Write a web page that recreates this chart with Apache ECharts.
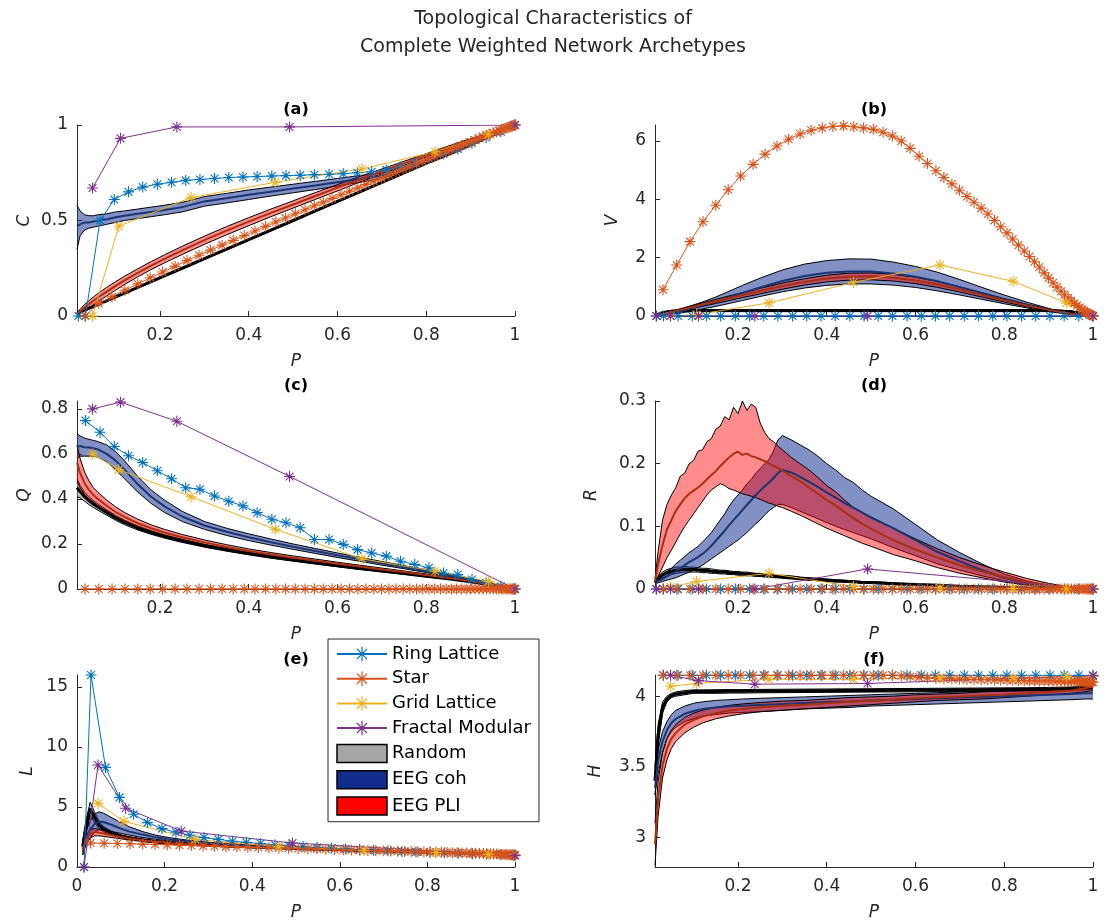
<!DOCTYPE html>
<html>
<head>
<meta charset="utf-8">
<script src="https://cdn.jsdelivr.net/npm/echarts@6/dist/echarts.min.js"></script>
<style>html,body{margin:0;padding:0;background:#fff}#c{width:1105px;height:923px}</style>
</head>
<body>
<div id="c"></div>
<script>
// ---------- x positions ----------
const P_BAND = [0.013,0.02,0.03,0.04,0.05,0.06,0.08,0.1,0.12,0.15,0.18,0.21,0.25,0.3,0.35,0.4,0.45,0.5,0.55,0.6,0.65,0.7,0.75,0.8,0.85,0.9,0.95,0.98,1.0];
const P_BAND_D = [0.013,0.02,0.03,0.04,0.05,0.06,0.07,0.08,0.09,0.1,0.11,0.12,0.13,0.14,0.15,0.16,0.17,0.18,0.19,0.2,0.21,0.22,0.23,0.24,0.25,0.26,0.27,0.28,0.29,0.3,0.32,0.34,0.36,0.38,0.4,0.42,0.44,0.46,0.48,0.5,0.55,0.6,0.65,0.7,0.75,0.8,0.85,0.9,0.95,1.0];
const P_RING = [0.016,0.032,0.065,0.097,0.129,0.161,0.194,0.226,0.258,0.290,0.323,0.355,0.387,0.419,0.452,0.484,0.516,0.548,0.581,0.613,0.645,0.677,0.710,0.742,0.774,0.806,0.839,0.871,0.903,0.935,0.968,1.0];
const P_STAR = [0.031,0.062,0.092,0.121,0.150,0.178,0.206,0.234,0.261,0.288,0.314,0.340,0.365,0.390,0.414,0.438,0.461,0.483,0.505,0.527,0.548,0.568,0.588,0.608,0.627,0.646,0.664,0.682,0.699,0.716,0.732,0.748,0.763,0.778,0.792,0.806,0.819,0.832,0.845,0.857,0.868,0.879,0.890,0.900,0.910,0.919,0.928,0.936,0.944,0.951,0.958,0.964,0.970,0.975,0.980,0.984,0.988,0.991,0.994,0.996,0.998,1.0];
const P_GRID = [0.048,0.107,0.27,0.46,0.655,0.82,0.94,1.0];
const P_FRACT = [0.016,0.048,0.111,0.238,0.492,1.0];

// ---------- tick labels ----------
const X_TICKS = [0.2,0.4,0.6,0.8,1];
const X_TICKS_E = [0,0.2,0.4,0.6,0.8,1];
const C_TICKS = [0,0.5,1];
const V_TICKS = [0,2,4,6];
const Q_TICKS = [0,0.2,0.4,0.6,0.8];
const R_TICKS = [0,0.1,0.2,0.3];
const L_TICKS = [0,5,10,15];
const H_TICKS = [3,3.5,4];

// ---------- (a) C ----------
const C_RING = [0,0,0.5,0.61,0.65,0.675,0.69,0.70,0.71,0.715,0.72,0.725,0.728,0.73,0.733,0.735,0.737,0.74,0.742,0.745,0.75,0.755,0.765,0.78,0.80,0.825,0.85,0.875,0.905,0.935,0.965,1.0];
const C_STAR = [0.0,0.065,0.10,0.135,0.168,0.2,0.23,0.26,0.29,0.318,0.345,0.371,0.396,0.421,0.445,0.469,0.492,0.513,0.535,0.556,0.577,0.596,0.616,0.635,0.653,0.671,0.689,0.706,0.722,0.738,0.754,0.769,0.783,0.797,0.81,0.824,0.836,0.848,0.86,0.871,0.882,0.892,0.902,0.912,0.921,0.93,0.938,0.945,0.952,0.959,0.965,0.97,0.975,0.98,0.984,0.987,0.99,0.993,0.995,0.997,0.999,1.0];
const C_GRID = [0,0.47,0.62,0.70,0.77,0.86,0.95,1.0];
const C_FRACT = [null,0.67,0.93,0.99,0.99,1.0];
const C_RND_LO = [0.009,0.016,0.026,0.036,0.046,0.056,0.076,0.096,0.116,0.146,0.176,0.206,0.246,0.296,0.346,0.396,0.446,0.496,0.546,0.596,0.646,0.696,0.746,0.796,0.846,0.896,0.946,0.976,0.996];
const C_RND_HI = [0.017,0.024,0.034,0.044,0.054,0.064,0.084,0.104,0.124,0.154,0.184,0.214,0.254,0.304,0.354,0.404,0.454,0.504,0.554,0.604,0.654,0.704,0.754,0.804,0.854,0.904,0.954,0.984,1.0];
const C_COH_LO = [0.35,0.42,0.45,0.46,0.465,0.47,0.48,0.49,0.50,0.51,0.52,0.53,0.545,0.575,0.592,0.61,0.628,0.645,0.662,0.68,0.70,0.72,0.755,0.795,0.84,0.89,0.942,0.976,0.998];
const C_COH_HI = [0.58,0.55,0.53,0.525,0.525,0.53,0.535,0.545,0.55,0.56,0.57,0.58,0.595,0.625,0.642,0.66,0.675,0.69,0.705,0.72,0.735,0.75,0.78,0.815,0.86,0.905,0.952,0.982,1.0];
const C_COH_MEAN = [0.47,0.48,0.49,0.49,0.495,0.50,0.507,0.517,0.525,0.535,0.545,0.555,0.57,0.6,0.617,0.635,0.651,0.667,0.683,0.7,0.717,0.735,0.767,0.805,0.85,0.897,0.947,0.979,0.999];
const C_PLI_LO = [0.0,0.012,0.03,0.045,0.06,0.075,0.105,0.135,0.165,0.205,0.243,0.278,0.322,0.375,0.425,0.473,0.52,0.565,0.61,0.655,0.70,0.745,0.788,0.832,0.875,0.916,0.958,0.982,0.998];
const C_PLI_HI = [0.02,0.035,0.06,0.08,0.10,0.118,0.15,0.18,0.208,0.247,0.285,0.32,0.365,0.418,0.468,0.515,0.56,0.603,0.646,0.688,0.73,0.77,0.81,0.85,0.89,0.928,0.965,0.986,1.0];
const C_PLI_MEAN = [0.01,0.024,0.045,0.062,0.08,0.097,0.128,0.158,0.187,0.226,0.264,0.299,0.344,0.397,0.447,0.494,0.54,0.584,0.628,0.672,0.715,0.758,0.799,0.841,0.883,0.922,0.962,0.984,0.999];

// ---------- (b) V ----------
const V_RING = [0,0,0,0,0,0,0,0,0,0,0,0,0,0,0,0,0,0,0,0,0,0,0,0,0,0,0,0,0,0,0,0];
const V_STAR = [0.9,1.75,2.55,3.23,3.8,4.33,4.8,5.2,5.55,5.83,6.06,6.24,6.37,6.45,6.5,6.52,6.49,6.45,6.4,6.3,6.17,6.0,5.75,5.48,5.23,4.98,4.75,4.53,4.31,4.1,3.9,3.7,3.5,3.28,3.06,2.85,2.64,2.43,2.23,2.04,1.86,1.68,1.48,1.3,1.14,0.99,0.85,0.73,0.62,0.52,0.43,0.36,0.29,0.23,0.18,0.14,0.1,0.07,0.05,0.03,0.02,0.0];
const V_GRID = [0,0.05,0.45,1.15,1.75,1.19,0.45,0];
const V_FRACT = [0,0,0,0,0,0];
const V_RND_LO = [0,0.04,0.08,0.11,0.13,0.14,0.15,0.15,0.15,0.15,0.15,0.15,0.15,0.15,0.15,0.15,0.15,0.15,0.15,0.15,0.15,0.15,0.15,0.15,0.15,0.15,0.12,0.05,0];
const V_RND_HI = [0.02,0.08,0.14,0.17,0.19,0.2,0.21,0.22,0.22,0.22,0.22,0.22,0.22,0.22,0.22,0.22,0.22,0.22,0.22,0.22,0.22,0.22,0.22,0.22,0.22,0.22,0.18,0.09,0.01];
const V_COH_LO = [0,0.01,0.02,0.04,0.06,0.08,0.13,0.18,0.24,0.33,0.43,0.53,0.67,0.83,0.96,1.05,1.1,1.1,1.06,0.98,0.86,0.72,0.57,0.42,0.28,0.15,0.05,0.01,0];
const V_COH_HI = [0.02,0.04,0.07,0.1,0.14,0.18,0.28,0.38,0.48,0.65,0.85,1.05,1.3,1.58,1.78,1.9,1.96,1.95,1.85,1.7,1.5,1.25,0.98,0.72,0.48,0.26,0.09,0.03,0];
const V_COH_MEAN = [0.01,0.025,0.045,0.07,0.1,0.13,0.2,0.28,0.36,0.49,0.64,0.79,0.98,1.2,1.37,1.48,1.53,1.53,1.46,1.35,1.19,0.99,0.78,0.57,0.38,0.21,0.07,0.02,0];
const V_PLI_LO = [0,0.02,0.05,0.08,0.11,0.14,0.2,0.27,0.33,0.43,0.53,0.63,0.76,0.92,1.06,1.17,1.23,1.24,1.2,1.11,0.98,0.82,0.65,0.48,0.32,0.18,0.06,0.015,0];
const V_PLI_HI = [0.02,0.05,0.09,0.13,0.17,0.21,0.29,0.37,0.45,0.57,0.69,0.8,0.95,1.13,1.28,1.4,1.47,1.48,1.43,1.33,1.18,1.0,0.8,0.6,0.41,0.24,0.09,0.03,0];
const V_PLI_MEAN = [0.01,0.035,0.07,0.105,0.14,0.175,0.245,0.32,0.39,0.5,0.61,0.715,0.855,1.025,1.17,1.285,1.35,1.36,1.315,1.22,1.08,0.91,0.725,0.54,0.365,0.21,0.075,0.022,0];

// ---------- (c) Q ----------
const Q_RING = [null,0.748,0.696,0.633,0.592,0.562,0.525,0.49,0.45,0.443,0.413,0.39,0.369,0.339,0.31,0.294,0.272,0.22,0.22,0.198,0.175,0.16,0.146,0.123,0.109,0.094,0.071,0.064,0.042,0.027,0.012,0];
const Q_STAR = [0,0,0,0,0,0,0,0,0,0,0,0,0,0,0,0,0,0,0,0,0,0,0,0,0,0,0,0,0,0,0,0,0,0,0,0,0,0,0,0,0,0,0,0,0,0,0,0,0,0,0,0,0,0,0,0,0,0,0,0,0,0];
const Q_GRID = [0.6,0.53,0.41,0.265,0.134,0.079,0.034,0];
const Q_FRACT = [null,0.8,0.83,0.745,0.5,0];
const Q_RND_LO = [0.41,0.405,0.39,0.375,0.362,0.35,0.328,0.305,0.286,0.262,0.243,0.226,0.207,0.186,0.168,0.152,0.137,0.124,0.111,0.099,0.087,0.076,0.065,0.054,0.043,0.03,0.015,0.005,0];
const Q_RND_HI = [0.49,0.46,0.43,0.41,0.393,0.378,0.352,0.327,0.306,0.28,0.259,0.241,0.221,0.199,0.18,0.163,0.148,0.134,0.121,0.108,0.096,0.084,0.072,0.06,0.048,0.034,0.018,0.007,0];
const Q_COH_LO = [0.58,0.59,0.59,0.59,0.59,0.585,0.565,0.53,0.49,0.43,0.38,0.34,0.3,0.265,0.238,0.215,0.195,0.176,0.158,0.14,0.123,0.106,0.09,0.073,0.056,0.038,0.019,0.007,0];
const Q_COH_HI = [0.69,0.68,0.67,0.665,0.66,0.655,0.64,0.61,0.57,0.5,0.44,0.395,0.345,0.3,0.27,0.245,0.222,0.2,0.18,0.16,0.141,0.122,0.104,0.085,0.066,0.046,0.024,0.01,0];
const Q_COH_MEAN = [0.63,0.635,0.63,0.628,0.625,0.62,0.6,0.57,0.53,0.465,0.41,0.367,0.322,0.282,0.254,0.23,0.208,0.188,0.169,0.15,0.132,0.114,0.097,0.079,0.061,0.042,0.021,0.008,0];
const Q_PLI_LO = [0.48,0.45,0.42,0.40,0.385,0.37,0.345,0.32,0.30,0.275,0.255,0.238,0.218,0.196,0.177,0.16,0.145,0.131,0.118,0.105,0.093,0.081,0.069,0.057,0.045,0.031,0.016,0.006,0];
const Q_PLI_HI = [0.64,0.58,0.52,0.48,0.45,0.43,0.395,0.365,0.34,0.31,0.285,0.265,0.242,0.218,0.197,0.178,0.162,0.147,0.133,0.119,0.106,0.093,0.08,0.067,0.053,0.038,0.02,0.008,0];
const Q_PLI_MEAN = [0.56,0.515,0.47,0.44,0.417,0.4,0.37,0.342,0.32,0.292,0.27,0.251,0.23,0.207,0.187,0.169,0.153,0.139,0.125,0.112,0.1,0.087,0.075,0.062,0.049,0.035,0.018,0.007,0];

// ---------- (d) R ----------
const R_RING = [0,0,0,0,0,0,0,0,0,0,0,0,0,0,0,0,0,0,0,0,0,0,0,0,0,0,0,0,0,0,0,0];
const R_STAR = [0,0,0,0,0,0,0,0,0,0,0,0,0,0,0,0,0,0,0,0,0,0,0,0,0,0,0,0,0,0,0,0,0,0,0,0,0,0,0,0,0,0,0,0,0,0,0,0,0,0,0,0,0,0,0,0,0,0,0,0,0,0];
const R_GRID = [0.003,0.012,0.025,0.004,0.002,0.001,0,0];
const R_FRACT = [0,0,0,0,0.032,0];
const R_RND_LO = [0.008,0.013,0.018,0.021,0.023,0.025,0.026,0.027,0.027,0.027,0.027,0.026,0.026,0.025,0.025,0.024,0.024,0.023,0.023,0.022,0.022,0.021,0.021,0.02,0.02,0.019,0.019,0.018,0.018,0.017,0.016,0.015,0.014,0.013,0.012,0.011,0.011,0.01,0.009,0.009,0.007,0.006,0.005,0.004,0.003,0.002,0.001,0.001,0,0];
const R_RND_HI = [0.012,0.02,0.027,0.031,0.033,0.035,0.035,0.036,0.035,0.035,0.034,0.033,0.033,0.032,0.031,0.03,0.03,0.029,0.028,0.028,0.027,0.027,0.026,0.025,0.025,0.024,0.024,0.023,0.022,0.022,0.021,0.019,0.018,0.017,0.016,0.015,0.014,0.013,0.012,0.012,0.01,0.008,0.007,0.005,0.004,0.003,0.002,0.001,0.0005,0];
const R_COH_LO = [0.008,0.01,0.012,0.014,0.016,0.018,0.021,0.024,0.027,0.03,0.034,0.038,0.043,0.048,0.053,0.058,0.063,0.068,0.073,0.078,0.084,0.09,0.097,0.104,0.11,0.118,0.125,0.13,0.135,0.135,0.13,0.124,0.118,0.112,0.106,0.1,0.095,0.09,0.085,0.08,0.066,0.053,0.04,0.03,0.021,0.013,0.007,0.003,0.001,0];
const R_COH_HI = [0.012,0.018,0.022,0.028,0.033,0.04,0.046,0.052,0.058,0.063,0.068,0.075,0.082,0.09,0.1,0.11,0.12,0.132,0.142,0.15,0.158,0.168,0.175,0.185,0.192,0.2,0.207,0.22,0.238,0.245,0.238,0.23,0.222,0.212,0.2,0.19,0.178,0.17,0.158,0.148,0.128,0.103,0.078,0.058,0.04,0.024,0.013,0.006,0.002,0];
const R_COH_MEAN = [0.01,0.013,0.016,0.02,0.024,0.028,0.033,0.038,0.043,0.047,0.051,0.056,0.062,0.069,0.077,0.085,0.093,0.102,0.11,0.118,0.126,0.134,0.142,0.15,0.157,0.164,0.17,0.177,0.185,0.19,0.186,0.179,0.171,0.163,0.154,0.146,0.137,0.13,0.122,0.114,0.097,0.078,0.059,0.044,0.03,0.018,0.01,0.004,0.001,0];
const R_PLI_LO = [0.01,0.02,0.035,0.05,0.062,0.075,0.088,0.1,0.11,0.12,0.13,0.14,0.15,0.158,0.163,0.168,0.165,0.16,0.158,0.155,0.152,0.15,0.148,0.146,0.143,0.14,0.137,0.135,0.132,0.13,0.124,0.118,0.111,0.104,0.097,0.091,0.085,0.079,0.073,0.068,0.055,0.045,0.034,0.025,0.018,0.011,0.006,0.003,0.001,0];
const R_PLI_HI = [0.015,0.06,0.11,0.135,0.15,0.162,0.18,0.185,0.2,0.205,0.22,0.222,0.235,0.24,0.255,0.26,0.275,0.27,0.29,0.28,0.3,0.285,0.295,0.29,0.265,0.25,0.24,0.235,0.228,0.222,0.21,0.2,0.19,0.178,0.165,0.155,0.142,0.13,0.122,0.115,0.097,0.08,0.064,0.05,0.038,0.027,0.017,0.009,0.003,0];
const R_PLI_MEAN = [0.012,0.04,0.07,0.095,0.11,0.125,0.135,0.145,0.152,0.157,0.162,0.168,0.175,0.182,0.188,0.196,0.203,0.21,0.216,0.219,0.214,0.216,0.212,0.21,0.207,0.204,0.2,0.197,0.193,0.189,0.18,0.172,0.162,0.152,0.142,0.133,0.123,0.113,0.104,0.096,0.078,0.063,0.05,0.038,0.028,0.019,0.011,0.006,0.002,0];

// ---------- (e) L ----------
const L_RING = [0,16,8.3,5.8,4.4,3.7,3.2,2.9,2.65,2.45,2.3,2.15,2.05,1.95,1.85,1.78,1.7,1.63,1.57,1.5,1.45,1.4,1.35,1.3,1.26,1.22,1.18,1.14,1.1,1.07,1.03,1.0];
const L_STAR = [2.0,1.98,1.96,1.94,1.91,1.88,1.85,1.82,1.79,1.76,1.73,1.7,1.68,1.65,1.63,1.6,1.58,1.56,1.54,1.52,1.5,1.48,1.46,1.44,1.42,1.4,1.38,1.37,1.35,1.33,1.32,1.3,1.29,1.27,1.26,1.24,1.23,1.22,1.2,1.19,1.18,1.17,1.16,1.15,1.14,1.13,1.12,1.11,1.1,1.09,1.08,1.07,1.06,1.05,1.04,1.03,1.03,1.02,1.01,1.01,1.0,1.0];
const L_GRID = [5.3,3.8,2.3,1.7,1.4,1.2,1.05,1.0];
const L_FRACT = [0,8.5,4.9,3.0,2.0,0.95];
const L_RND_LO = [1.2,2.6,4.3,3.7,3.2,2.95,2.65,2.45,2.3,2.15,2.03,1.95,1.86,1.77,1.7,1.63,1.57,1.51,1.46,1.41,1.36,1.31,1.26,1.22,1.17,1.12,1.07,1.03,1.0];
const L_RND_HI = [2.2,3.8,5.4,4.6,3.8,3.4,2.95,2.68,2.5,2.3,2.16,2.06,1.95,1.85,1.77,1.69,1.62,1.56,1.5,1.45,1.4,1.35,1.3,1.25,1.2,1.15,1.09,1.05,1.02];
const L_COH_LO = [1.0,1.8,2.4,2.9,3.1,3.1,2.95,2.8,2.65,2.45,2.3,2.17,2.04,1.9,1.8,1.7,1.62,1.55,1.49,1.43,1.38,1.32,1.27,1.22,1.17,1.12,1.06,1.03,1.0];
const L_COH_HI = [2.0,3.0,3.8,4.4,4.6,4.5,4.1,3.7,3.35,2.95,2.65,2.45,2.25,2.07,1.93,1.81,1.71,1.63,1.56,1.49,1.43,1.37,1.31,1.26,1.21,1.15,1.09,1.05,1.02];
const L_COH_MEAN = [1.5,2.4,3.1,3.6,3.8,3.75,3.5,3.2,2.95,2.7,2.47,2.3,2.14,1.98,1.86,1.75,1.66,1.59,1.52,1.46,1.4,1.34,1.29,1.24,1.19,1.13,1.07,1.04,1.01];
const L_PLI_LO = [1.0,1.9,2.4,2.6,2.6,2.55,2.45,2.35,2.25,2.12,2.02,1.94,1.85,1.76,1.68,1.61,1.55,1.49,1.44,1.39,1.35,1.3,1.26,1.21,1.16,1.11,1.06,1.03,1.0];
const L_PLI_HI = [1.8,2.6,3.1,3.2,3.15,3.05,2.85,2.65,2.52,2.35,2.2,2.09,1.97,1.86,1.77,1.69,1.62,1.56,1.5,1.45,1.4,1.35,1.3,1.25,1.2,1.15,1.09,1.05,1.02];
const L_PLI_MEAN = [1.4,2.25,2.75,2.9,2.87,2.8,2.65,2.5,2.38,2.23,2.11,2.01,1.91,1.81,1.72,1.65,1.58,1.52,1.47,1.42,1.37,1.32,1.28,1.23,1.18,1.13,1.07,1.04,1.01];

// ---------- (f) H ----------
const H_RING = [null,4.148,4.148,4.148,4.148,4.148,4.148,4.148,4.148,4.148,4.148,4.148,4.148,4.148,4.148,4.148,4.148,4.148,4.148,4.148,4.148,4.148,4.148,4.148,4.148,4.148,4.148,4.148,4.148,4.148,4.148,4.148];
const H_STAR = [4.148,4.148,4.148,4.148,4.148,4.148,4.148,4.148,4.148,4.148,4.148,4.148,4.148,4.148,4.148,4.148,4.148,4.148,4.148,4.148,4.148,4.145,4.14,4.135,4.13,4.127,4.124,4.122,4.12,4.119,4.118,4.117,4.116,4.115,4.114,4.113,4.112,4.111,4.11,4.11,4.109,4.108,4.108,4.107,4.107,4.106,4.106,4.105,4.105,4.104,4.104,4.104,4.103,4.103,4.103,4.102,4.102,4.102,4.101,4.101,4.1,4.1];
const H_GRID = [4.07,4.09,4.12,4.12,4.13,4.13,4.14,4.14];
const H_FRACT = [null,4.148,4.11,4.085,4.09,4.145];
const H_RND_LO = [3.3,3.65,3.88,3.96,3.99,4.0,4.01,4.02,4.02,4.02,4.022,4.022,4.024,4.025,4.026,4.027,4.028,4.029,4.03,4.031,4.032,4.033,4.034,4.035,4.036,4.037,4.04,4.045,4.05];
const H_RND_HI = [3.5,3.8,3.96,4.0,4.02,4.03,4.04,4.045,4.045,4.046,4.047,4.047,4.048,4.049,4.05,4.051,4.052,4.053,4.054,4.055,4.056,4.057,4.058,4.059,4.06,4.062,4.065,4.07,4.075];
const H_COH_LO = [3.3,3.45,3.6,3.7,3.75,3.78,3.82,3.84,3.86,3.87,3.88,3.885,3.89,3.9,3.91,3.915,3.92,3.93,3.935,3.94,3.945,3.95,3.955,3.96,3.965,3.97,3.975,3.98,3.98];
const H_COH_HI = [3.4,3.62,3.75,3.82,3.87,3.9,3.93,3.95,3.96,3.97,3.975,3.98,3.985,3.99,3.995,4.0,4.005,4.01,4.015,4.02,4.025,4.03,4.035,4.04,4.045,4.05,4.055,4.06,4.06];
const H_COH_MEAN = [3.35,3.54,3.68,3.76,3.81,3.84,3.875,3.895,3.91,3.92,3.928,3.932,3.938,3.945,3.952,3.958,3.962,3.97,3.975,3.98,3.985,3.99,3.995,4.0,4.005,4.01,4.015,4.02,4.02];
const H_PLI_LO = [2.8,3.15,3.42,3.55,3.63,3.68,3.74,3.78,3.81,3.84,3.86,3.875,3.89,3.9,3.91,3.92,3.93,3.94,3.95,3.96,3.97,3.975,3.98,3.99,4.0,4.01,4.02,4.03,4.04];
const H_PLI_HI = [3.1,3.4,3.6,3.7,3.76,3.8,3.85,3.88,3.9,3.92,3.935,3.945,3.955,3.965,3.97,3.98,3.99,3.995,4.0,4.01,4.015,4.02,4.03,4.035,4.04,4.05,4.06,4.08,4.1];
const H_PLI_MEAN = [2.95,3.28,3.51,3.63,3.7,3.74,3.8,3.83,3.855,3.88,3.898,3.91,3.922,3.932,3.94,3.95,3.96,3.968,3.975,3.985,3.992,3.998,4.005,4.012,4.02,4.03,4.04,4.055,4.07];

// ---------- styling ----------
const FONT = '"DejaVu Sans", sans-serif';
const AXC = '#262626';
const COL = {ring:'#0072BD', star:'#D95319', grid:'#EDB120', fract:'#7E2F8E'};
const STAR_SYM = 'path://M10,0L10,20M0,10L20,10M2.93,2.93L17.07,17.07M2.93,17.07L17.07,2.93';

const GRIDS = [
  {left:77, top:125, width:438, height:191},
  {left:655, top:125, width:438, height:191},
  {left:77, top:401, width:438, height:188},
  {left:655, top:401, width:438, height:188},
  {left:77, top:675, width:438, height:192},
  {left:655, top:675, width:438, height:192}
];

const PANELS = [
  {xmin:0.013, xt:X_TICKS, ymin:0, ymax:1, yt:C_TICKS, bp:P_BAND,
   rnd:[C_RND_LO,C_RND_HI], coh:[C_COH_LO,C_COH_HI,C_COH_MEAN], pli:[C_PLI_LO,C_PLI_HI,C_PLI_MEAN],
   ring:C_RING, star:C_STAR, grid:C_GRID, fract:C_FRACT},
  {xmin:0.013, xt:X_TICKS, ymin:0, ymax:6.55, yt:V_TICKS, bp:P_BAND,
   rnd:[V_RND_LO,V_RND_HI], coh:[V_COH_LO,V_COH_HI,V_COH_MEAN], pli:[V_PLI_LO,V_PLI_HI,V_PLI_MEAN],
   ring:V_RING, star:V_STAR, grid:V_GRID, fract:V_FRACT},
  {xmin:0.013, xt:X_TICKS, ymin:0, ymax:0.835, yt:Q_TICKS, bp:P_BAND,
   rnd:[Q_RND_LO,Q_RND_HI], coh:[Q_COH_LO,Q_COH_HI,Q_COH_MEAN], pli:[Q_PLI_LO,Q_PLI_HI,Q_PLI_MEAN],
   ring:Q_RING, star:Q_STAR, grid:Q_GRID, fract:Q_FRACT},
  {xmin:0.013, xt:X_TICKS, ymin:0, ymax:0.3, yt:R_TICKS, bp:P_BAND_D,
   rnd:[R_RND_LO,R_RND_HI], coh:[R_COH_LO,R_COH_HI,R_COH_MEAN], pli:[R_PLI_LO,R_PLI_HI,R_PLI_MEAN],
   ring:R_RING, star:R_STAR, grid:R_GRID, fract:R_FRACT},
  {xmin:0, xt:X_TICKS_E, ymin:0, ymax:16, yt:L_TICKS, bp:P_BAND,
   rnd:[L_RND_LO,L_RND_HI], coh:[L_COH_LO,L_COH_HI,L_COH_MEAN], pli:[L_PLI_LO,L_PLI_HI,L_PLI_MEAN],
   ring:L_RING, star:L_STAR, grid:L_GRID, fract:L_FRACT},
  {xmin:0.013, xt:X_TICKS, ymin:2.79, ymax:4.15, yt:H_TICKS, bp:P_BAND,
   rnd:[H_RND_LO,H_RND_HI], coh:[H_COH_LO,H_COH_HI,H_COH_MEAN], pli:[H_PLI_LO,H_PLI_HI,H_PLI_MEAN],
   ring:H_RING, star:H_STAR, grid:H_GRID, fract:H_FRACT}
];

function pairs(xs, ys){ return xs.map((x,i)=>[x, ys[i] === null ? null : ys[i]]); }
function midPairs(xs, lo, hi){ return xs.map((x,i)=>[x, (hi[i]+lo[i])/2]); }

// shaded band (fill between lower and upper bound, black edges), drawn through the axes' scales
function bandSeries(i, name, xs, lo, hi, fill){
  return {
    type:'custom', name:name, xAxisIndex:i, yAxisIndex:i, silent:true, animation:false,
    data: xs.map((x,k)=>[x, lo[k], hi[k]]),
    encode:{x:0, y:[1,2]},
    renderItem: function(params, api){
      if (params.dataIndex !== 0) return null;
      const top = xs.map((x,k)=>api.coord([x, hi[k]]));
      const bot = xs.map((x,k)=>api.coord([x, lo[k]]));
      const poly = top.concat(bot.slice().reverse());
      return {type:'group', children:[
        {type:'polygon', shape:{points:poly}, style:{fill:fill, stroke:null}},
        {type:'polyline', shape:{points:top}, style:{fill:null, stroke:'#000', lineWidth:1}},
        {type:'polyline', shape:{points:bot}, style:{fill:null, stroke:'#000', lineWidth:1}}
      ]};
    }
  };
}

const xAxes = [], yAxes = [], series = [];
PANELS.forEach((p, i) => {
  xAxes.push({type:'value', gridIndex:i, min:p.xmin, max:1,
    axisLine:{show:true, onZero:false, lineStyle:{color:AXC, width:1}},
    axisTick:{show:true, inside:true, length:5, customValues:p.xt, lineStyle:{color:AXC}},
    axisLabel:{show:true, customValues:p.xt, color:AXC, fontSize:17, margin:11, fontFamily:FONT},
    splitLine:{show:false}});
  yAxes.push({type:'value', gridIndex:i, min:p.ymin, max:p.ymax,
    axisLine:{show:true, onZero:false, lineStyle:{color:AXC, width:1}},
    axisTick:{show:true, inside:true, length:5, customValues:p.yt, lineStyle:{color:AXC}},
    axisLabel:{show:true, customValues:p.yt, color:AXC, fontSize:17, margin:9, fontFamily:FONT},
    splitLine:{show:false}});
  const base = {type:'line', xAxisIndex:i, yAxisIndex:i, symbol:'none', showSymbol:false, silent:true, animation:false};
  function band(key, name, fill, meanColor, meanWidth, meanArr){
    const lo = p[key][0], hi = p[key][1];
    series.push(bandSeries(i, name, p.bp, lo, hi, fill));
    series.push(Object.assign({}, base, {name:name+' mean', data: meanArr ? pairs(p.bp, meanArr) : midPairs(p.bp, lo, hi), lineStyle:{color:meanColor, width:meanWidth}}));
  }
  band('rnd', 'Random', 'rgba(140,140,140,0.55)', '#000000', 3, null);
  band('coh', 'EEG coh', 'rgba(25,55,150,0.55)', '#1c3470', 2, p.coh[2]);
  band('pli', 'EEG PLI', 'rgba(255,0,0,0.45)', '#a8300f', 2, p.pli[2]);
  function arch(name, xs, ys, c){
    series.push({type:'line', name:name, xAxisIndex:i, yAxisIndex:i, data:pairs(xs, ys),
      symbol:STAR_SYM, symbolSize:11, showSymbol:true, showAllSymbol:true, silent:true, animation:false,
      lineStyle:{color:c, width:1}, itemStyle:{color:c, borderColor:c, borderWidth:1.1}});
  }
  arch('Ring Lattice', P_RING, p.ring, COL.ring);
  arch('Star', P_STAR, p.star, COL.star);
  arch('Grid Lattice', P_GRID, p.grid, COL.grid);
  arch('Fractal Modular', P_FRACT, p.fract, COL.fract);
});

const PANEL_TITLES = ['(a)','(b)','(c)','(d)','(e)','(f)'];
const Y_NAMES = ['C','V','Q','R','L','H'];
const Y_NAME_X = [25, 613, 25, 592, 28, 596];

const graphic = [];
function txt(t, x, y, font, fill, rot){
  const el = {type:'text', x:x, y:y, silent:true, z:100,
    style:{text:t, font:font, fill:fill, align:'center', verticalAlign:'middle', textAlign:'center', textVerticalAlign:'middle'}};
  if (rot) el.rotation = rot;
  graphic.push(el);
}
txt('Topological Characteristics of', 553, 19, '19px ' + FONT, '#262626');
txt('Complete Weighted Network Archetypes', 553, 47, '19px ' + FONT, '#262626');
GRIDS.forEach((g, i) => {
  const cx = g.left + g.width/2;
  txt(PANEL_TITLES[i], cx, g.top - 15, 'bold 16px ' + FONT, '#000');
  txt('P', cx, g.top + g.height + 46, 'italic 17px ' + FONT, '#262626');
  txt(Y_NAMES[i], Y_NAME_X[i], g.top + g.height/2, 'italic 17px ' + FONT, '#262626', Math.PI/2);
});

const option = {
  animation:false,
  textStyle:{fontFamily:FONT},
  grid: GRIDS.map(g => Object.assign({containLabel:false, outerBoundsMode:'none'}, g)),
  xAxis: xAxes,
  yAxis: yAxes,
  legend: {
    left:328, top:639, orient:'vertical', itemWidth:50, itemHeight:18, itemGap:6.7,
    padding:[6,8,6,8], borderColor:'#262626', borderWidth:1, backgroundColor:'#ffffff',
    textStyle:{fontSize:18, color:'#000', fontFamily:FONT}, selectedMode:false,
    data:[
      {name:'Ring Lattice', itemStyle:{borderWidth:1.2}},
      {name:'Star', itemStyle:{borderWidth:1.2}},
      {name:'Grid Lattice', itemStyle:{borderWidth:1.2}},
      {name:'Fractal Modular', itemStyle:{borderWidth:1.2}},
      {name:'Random', icon:'rect', itemStyle:{color:'#a6a6a6', borderColor:'#000', borderWidth:1.5}},
      {name:'EEG coh', icon:'rect', itemStyle:{color:'#132d8c', borderColor:'#000', borderWidth:1.5}},
      {name:'EEG PLI', icon:'rect', itemStyle:{color:'#ff0000', borderColor:'#000', borderWidth:1.5}}
    ]
  },
  graphic: graphic,
  series: series
};
const chart = echarts.init(document.getElementById('c'), null, {renderer:'canvas'});
chart.setOption(option);
</script>
</body>
</html>
